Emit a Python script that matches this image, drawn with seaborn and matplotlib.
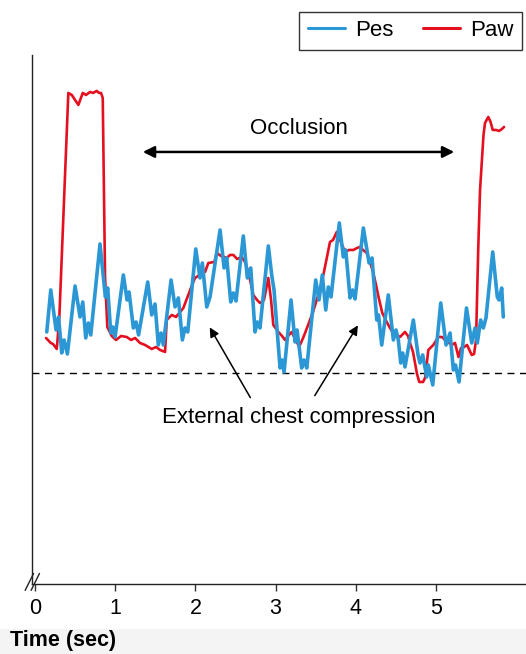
import numpy as np
import pandas as pd
import matplotlib
matplotlib.use("Agg")
import matplotlib.pyplot as plt
from matplotlib.patches import Rectangle
from matplotlib.lines import Line2D
import seaborn as sns

# ---- Data (time in sec, pressure in arbitrary units, 0 = dashed baseline) ----
pes_t = [0.146, 0.196, 0.262, 0.293, 0.333, 0.362, 0.403, 0.499, 0.561, 0.595, 0.632, 0.665, 0.695,
         0.810, 0.877, 0.906, 0.944, 0.969, 0.998, 1.101, 1.147, 1.172, 1.226, 1.259, 1.291, 1.405,
         1.455, 1.496, 1.537, 1.571, 1.600, 1.696, 1.746, 1.787, 1.837, 1.870, 1.904, 2.004, 2.057,
         2.086, 2.141, 2.182, 2.307, 2.357, 2.390, 2.440, 2.473, 2.506, 2.597, 2.647, 2.690, 2.743,
         2.772, 2.805, 2.909, 2.951, 2.980, 3.055, 3.080, 3.105, 3.192, 3.242, 3.267, 3.325, 3.354,
         3.388, 3.500, 3.541, 3.582, 3.625, 3.657, 3.691, 3.794, 3.844, 3.874, 3.928, 3.959, 3.990,
         4.094, 4.165, 4.202, 4.261, 4.283, 4.323, 4.405, 4.468, 4.501, 4.530, 4.560, 4.585, 4.613,
         4.717, 4.776, 4.800, 4.834, 4.884, 4.904, 4.959, 5.059, 5.125, 5.175, 5.216, 5.243, 5.287,
         5.380, 5.445, 5.486, 5.515, 5.557, 5.590, 5.623, 5.707, 5.764, 5.786, 5.819, 5.839]
pes_v = [4.1, 8.3, 4.3, 5.6, 2.0, 3.3, 1.9, 8.7, 5.6, 7.1, 3.5, 5.0, 3.8,
         12.9, 7.6, 8.5, 4.0, 4.6, 3.6, 9.8, 7.3, 8.1, 4.5, 5.1, 3.8, 9.1,
         5.8, 6.9, 2.8, 4.0, 2.8, 9.3, 6.6, 7.5, 3.3, 4.5, 4.1, 12.4, 9.5,
         11.0, 6.6, 7.6, 14.3, 10.5, 11.5, 7.1, 8.0, 7.2, 13.7, 9.5, 10.5, 4.1,
         5.1, 4.5, 12.7, 9.8, 8.3, 0.5, 1.3, 0.1, 7.3, 3.1, 4.3, 0.5, 1.3,
         0.5, 9.3, 7.3, 9.8, 6.3, 8.6, 7.6, 15.0, 11.6, 12.3, 7.5, 8.3, 7.4,
         14.5, 11.0, 11.5, 5.3, 5.8, 2.8, 7.8, 3.3, 4.3, 3.3, 1.0, 2.0, 0.6,
         5.3, 1.8, 1.0, 1.8, -0.4, 0.8, -1.2, 7.0, 2.8, 4.0, 0.3, 0.8, -0.9,
         6.5, 3.0, 4.5, 3.0, 5.3, 4.5, 5.5, 12.1, 7.6, 7.3, 8.5, 5.6]

paw_t = [0.137, 0.196, 0.224, 0.271, 0.303, 0.415, 0.458, 0.499, 0.540, 0.595, 0.636, 0.686, 0.723,
         0.769, 0.798, 0.823, 0.844, 0.873, 0.901, 0.956, 1.010, 1.072, 1.143, 1.197, 1.247, 1.309,
         1.372, 1.455, 1.509, 1.559, 1.621, 1.642, 1.705, 1.758, 1.808, 1.849, 1.911, 1.958, 1.995,
         2.032, 2.079, 2.120, 2.161, 2.236, 2.266, 2.319, 2.390, 2.431, 2.473, 2.519, 2.577, 2.618,
         2.660, 2.722, 2.768, 2.805, 2.855, 2.909, 2.943, 2.971, 3.034, 3.080, 3.117, 3.155, 3.201,
         3.242, 3.283, 3.304, 3.342, 3.367, 3.429, 3.466, 3.512, 3.554, 3.595, 3.628, 3.678, 3.716,
         3.762, 3.803, 3.865, 3.915, 3.969, 4.015, 4.052, 4.090, 4.136, 4.177, 4.218, 4.252, 4.283,
         4.330, 4.385, 4.426, 4.468, 4.551, 4.613, 4.651, 4.676, 4.713, 4.738, 4.763, 4.791, 4.838,
         4.863, 4.904, 4.966, 5.029, 5.075, 5.112, 5.195, 5.237, 5.280, 5.312, 5.349, 5.387, 5.445,
         5.474, 5.499, 5.527, 5.549, 5.570, 5.592, 5.611, 5.652, 5.680, 5.707, 5.748, 5.786, 5.823, 5.848]
paw_v = [3.5, 3.0, 2.9, 2.4, 5.6, 28.0, 27.8, 27.3, 26.8, 28.0, 27.8, 28.1, 28.0,
         28.2, 28.0, 28.0, 27.5, 9.6, 4.6, 3.7, 3.3, 3.7, 3.6, 3.3, 3.5, 3.0,
         2.8, 2.4, 2.6, 2.3, 2.1, 5.3, 5.8, 5.6, 6.1, 6.5, 7.8, 8.8, 9.5,
         9.7, 10.1, 10.1, 11.0, 11.1, 12.0, 11.7, 11.5, 11.8, 11.8, 11.4, 11.6, 11.1,
         10.1, 7.8, 7.3, 7.0, 7.3, 9.5, 7.3, 4.8, 4.1, 3.7, 3.3, 3.7, 4.1,
         3.4, 2.8, 2.8, 3.5, 4.0, 5.3, 6.1, 7.3, 8.3, 9.8, 11.1, 13.1, 13.3,
         14.1, 13.3, 12.1, 12.3, 12.3, 12.5, 12.6, 12.3, 12.0, 11.1, 10.0, 8.8, 7.6,
         6.0, 5.1, 4.5, 4.0, 3.6, 4.1, 3.7, 3.0, 2.1, 1.0, -0.1, -0.9, -0.9,
         -0.5, 2.3, 2.8, 3.6, 3.6, 3.3, 2.8, 3.0, 1.6, 2.5, 2.6, 2.8, 1.8,
         1.9, 3.3, 12.6, 18.3, 21.0, 23.8, 25.0, 25.6, 25.1, 24.3, 24.3, 24.2, 24.4, 24.6]

series_names = ["Pes", "Paw"]
series_colors = ["#2b97d5", "#e4101f"]
x_ticks = [0, 1, 2, 3, 4, 5]

pes = pd.DataFrame({"t": pes_t, "v": pes_v})
paw = pd.DataFrame({"t": paw_t, "v": paw_v})

sns.set_theme(style="white")
plt.rcParams["font.family"] = ["Liberation Sans", "DejaVu Sans"]
plt.rcParams["text.color"] = "black"
plt.rcParams["xtick.color"] = "black"

fig = plt.figure(figsize=(5.26, 6.54), dpi=100)
# light grey strip at the very bottom
fig.patches.append(Rectangle((0, 0), 1, 0.038, transform=fig.transFigure,
                             facecolor="#f4f4f4", edgecolor="none", zorder=0))
ax = fig.add_axes([0.061, 0.107, 0.939, 0.809])
ax.patch.set_alpha(0)

# Paw under Pes
sns.lineplot(data=paw, x="t", y="v", ax=ax, color=series_colors[1], linewidth=1.9,
             sort=False, estimator=None, solid_joinstyle="round")
sns.lineplot(data=pes, x="t", y="v", ax=ax, color=series_colors[0], linewidth=2.6,
             sort=False, estimator=None, solid_joinstyle="round")

ax.axhline(0, color="black", linewidth=1, linestyle=(0, (5, 4)), zorder=1)

ax.set_xlim(-0.037, 6.122)
ax.set_ylim(-21.1, 31.8)
ax.set_xticks(x_ticks)
ax.set_xticklabels([str(x) for x in x_ticks], fontsize=15.5)
ax.set_yticks([])
ax.tick_params(axis="x", direction="out", length=5, width=1, color="#333333", pad=5, bottom=True)
ax.set_xlabel("")
ax.set_ylabel("")
for s in ["top", "right"]:
    ax.spines[s].set_visible(False)
for s in ["left", "bottom"]:
    ax.spines[s].set_color("#222222")
    ax.spines[s].set_linewidth(1)

# axis break marks
for dx in [0.0, 0.012]:
    ax.plot([-0.014 + dx, 0.003 + dx], [-0.012, 0.020], transform=ax.transAxes,
            color="#222222", linewidth=1, clip_on=False)

# annotations
ax.text(3.29, 24.4, "Occlusion", ha="center", va="center", fontsize=16)
ax.annotate("", xy=(1.309, 22.1), xytext=(5.262, 22.1),
            arrowprops=dict(arrowstyle="<|-|>", color="black", lw=1.8, mutation_scale=17))
ax.text(3.29, -4.5, "External chest compression", ha="center", va="center", fontsize=16)
ax.annotate("", xy=(2.161, 4.8), xytext=(2.702, -2.7),
            arrowprops=dict(arrowstyle="-|>", color="black", lw=1.1, mutation_scale=14))
ax.annotate("", xy=(4.044, 5.0), xytext=(3.470, -2.5),
            arrowprops=dict(arrowstyle="-|>", color="black", lw=1.1, mutation_scale=14))

fig.text(0.019, 0.021, "Time (sec)", fontsize=15.5, fontweight="semibold", ha="left", va="center")

handles = [Line2D([0], [0], color=c, linewidth=2.2) for c in series_colors]
leg = fig.legend(handles, series_names, loc="upper right", bbox_to_anchor=(0.993, 0.982),
                 ncol=2, frameon=True, fancybox=False, fontsize=16, handlelength=1.7,
                 columnspacing=1.3, handletextpad=0.45, borderpad=0.38, borderaxespad=0)
leg.get_frame().set_edgecolor("black")
leg.get_frame().set_linewidth(1)
leg.get_frame().set_facecolor("white")

fig.savefig("out.png", dpi=100)
